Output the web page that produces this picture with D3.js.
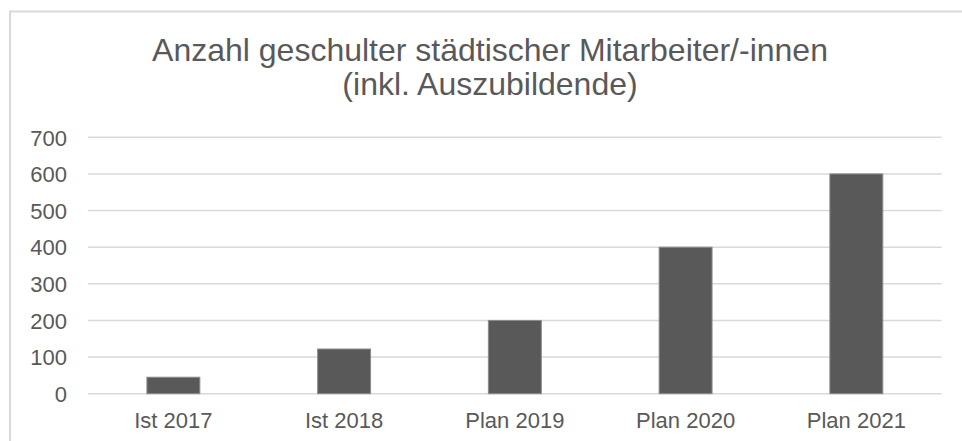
<!DOCTYPE html>
<html>
<head>
<meta charset="utf-8">
<script src="https://cdn.jsdelivr.net/npm/d3@7"></script>
<style>
    body { margin: 0; background: #fff; }
    text { font-family: "Liberation Sans", Arial, sans-serif; fill: #595959; }
</style>
</head>
<body>
<div id="chart"></div>
<script>
// chart data
const categories = ["Ist 2017", "Ist 2018", "Plan 2019", "Plan 2020", "Plan 2021"];
const values = [45, 122, 200, 400, 600];
const yTicks = [0, 100, 200, 300, 400, 500, 600, 700];
const titleLines = ["Anzahl geschulter städtischer Mitarbeiter/-innen", "(inkl. Auszubildende)"];

const width = 962;
const height = 441;
const margin = { top: 137.3, right: 20.3, bottom: 47.3, left: 88 };

const svg = d3.select("#chart")
    .append("svg")
    .attr("width", width)
    .attr("height", height);

svg.append("rect")
    .attr("width", width)
    .attr("height", height)
    .attr("fill", "#fff");

    // chart area border (runs off the right and bottom)
svg.append("rect")
    .attr("x", 10)
    .attr("y", 11.5)
    .attr("width", 980)
    .attr("height", 460)
    .attr("fill", "none")
    .attr("stroke", "#d9d9d9")
    .attr("stroke-width", 2);

    // title
svg.append("g")
    .selectAll("text")
    .data(titleLines)
    .enter()
    .append("text")
    .attr("x", 490)
    .attr("y", (d, i) => 61 + i * 34)
    .attr("text-anchor", "middle")
    .style("font-size", "32px")
    .text(d => d);

    // scales
const x = d3.scaleBand()
    .domain(categories)
    .range([margin.left, width - margin.right])
    .paddingInner(0.69)
    .paddingOuter(0.345);

const y = d3.scaleLinear()
    .domain([0, 700])
    .range([height - margin.bottom, margin.top]);

    // gridlines
svg.append("g")
    .attr("class", "grid")
    .selectAll("line")
    .data(yTicks)
    .enter()
    .append("line")
    .attr("x1", margin.left)
    .attr("x2", width - margin.right)
    .attr("y1", d => y(d))
    .attr("y2", d => y(d))
    .attr("stroke", "#d9d9d9")
    .attr("stroke-width", 1.5);

    // y axis labels
const yAxis = svg.append("g")
    .attr("transform", `translate(${margin.left - 12},0)`)
    .call(d3.axisLeft(y).tickValues(yTicks).tickSize(0).tickPadding(9));
yAxis.select(".domain").remove();
yAxis.selectAll("text")
    .style("font-size", "22px")
    .attr("fill", "#595959")
    .attr("dy", "0.35em");

    // bars
svg.selectAll(".bar")
    .data(values)
    .enter()
    .append("rect")
    .attr("class", "bar")
    .attr("x", (d, i) => x(categories[i]))
    .attr("y", d => y(d))
    .attr("width", x.bandwidth())
    .attr("height", d => y(0) - y(d))
    .attr("fill", "#595959")
    .attr("stroke", "#8c8c8c")
    .attr("stroke-width", 1);

    // x axis labels
const xAxis = svg.append("g")
    .attr("transform", `translate(0,${y(0)})`)
    .call(d3.axisBottom(x).tickSize(0).tickPadding(19));
xAxis.select(".domain").remove();
xAxis.selectAll("text")
    .style("font-size", "22px")
    .attr("fill", "#595959");
</script>
</body>
</html>
